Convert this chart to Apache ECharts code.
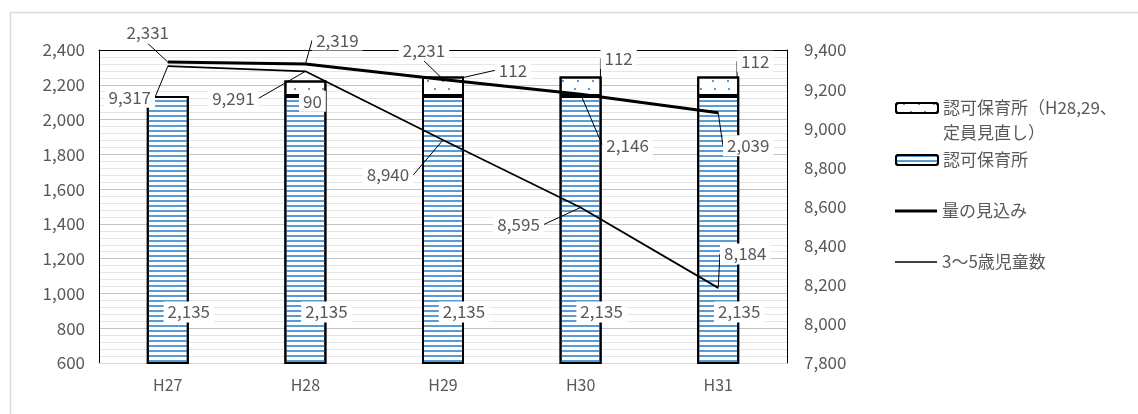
<!DOCTYPE html>
<html>
<head>
<meta charset="utf-8">
<script src="https://cdn.jsdelivr.net/npm/echarts@6/dist/echarts.min.js"></script>
<style>
  html, body { margin: 0; padding: 0; background: #fff; }
  #chart { width: 1138px; height: 414px; }
</style>
</head>
<body>
<div id="chart"></div>
<script>
  // 年度
  var years = ['H27', 'H28', 'H29', 'H30', 'H31']
  // 認可保育所
  var hoikusho = [2135, 2135, 2135, 2135, 2135]
  // 認可保育所（H28,29、定員見直し）
  var minaoshi = ['-', 90, 112, 112, 112]
  // 量の見込み（左軸）
  var mikomi = [2331, 2319, 2231, 2146, 2039]
  // 3～5歳児童数（右軸）
  var jidou = [9317, 9291, 8940, 8595, 8184]
  // 軸の目盛り
  var leftMin = 600, leftMax = 2400
  var rightMin = 7800, rightMax = 9400
  var tickStep = 200

  var names = ['認可保育所（H28,29、定員見直し）', '認可保育所', '量の見込み', '3～5歳児童数']

  // ラベルのずらし量 [dx, dy]
  var mikomiShift = [[-20, -29], [32, -24], [-19, -29], [47, 51], [30, 33]]
  var jidouShift = [[-38, 31], [-72, 27], [-55, 35], [-62, 17], [27, -34]]
  var minaoshiShift = [[0, 0], [7, 13], [70, -16], [38, -28], [37, -25]]

  var FONT = '"Noto Sans CJK JP", "Noto Sans", sans-serif'
  var GRAY = '#595959'

  function comma(v) {
    return String(v).replace(/\B(?=(\d{3})+(?!\d))/g, ',')
  }

  var labelBase = {
    show: true,
    position: 'inside',
    color: GRAY,
    fontSize: 17,
    fontFamily: FONT,
    backgroundColor: '#fff',
    padding: [2, 4],
    formatter: function (p) { return comma(p.value) }
  }
  var leader = { show: true, lineStyle: { color: '#000', width: 1 } }
  var legendText = { color: GRAY, fontSize: 17, lineHeight: 20 }

  var chart = echarts.init(document.getElementById('chart'))

  var option = {
    animation: false,
    textStyle: { fontFamily: FONT },
    grid: { left: 99, right: 351, top: 50, bottom: 51 },
    graphic: [
      {
        // 外枠
        type: 'rect',
        left: 8, top: 10,
        shape: { width: 1140, height: 410 },
        style: { fill: 'none', stroke: '#d9d9d9', lineWidth: 1.5 },
        silent: true
      },
      {
        // 凡例1の2行目
        type: 'text',
        x: 943, y: 133,
        style: { text: '定員見直し）', fill: GRAY, fontSize: 17, fontFamily: FONT, verticalAlign: 'middle' },
        silent: true
      }
    ],
    legend: [
      {
        data: [names[0]], left: 895, top: 98, padding: 0,
        itemWidth: 42, itemHeight: 10,
        formatter: function () { return '認可保育所（H28,29、' },
        textStyle: legendText,
        itemStyle: { borderColor: '#000', borderWidth: 2 }
      },
      {
        data: [names[1]], left: 895, top: 150, padding: 0,
        itemWidth: 42, itemHeight: 10,
        textStyle: legendText,
        itemStyle: { borderColor: '#000', borderWidth: 2 }
      },
      {
        data: [{ name: names[2], icon: 'rect' }], left: 895, top: 201, padding: 0,
        itemWidth: 42, itemHeight: 3,
        textStyle: legendText,
        itemStyle: { color: '#000', borderWidth: 0 }
      },
      {
        data: [{ name: names[3], icon: 'rect' }], left: 895, top: 252, padding: 0,
        itemWidth: 42, itemHeight: 1.5,
        textStyle: legendText,
        itemStyle: { color: '#000', borderWidth: 0 }
      }
    ],
    xAxis: [
      {
        type: 'category',
        data: years,
        axisLine: { lineStyle: { color: '#d9d9d9', width: 1 } },
        axisTick: { show: false },
        axisLabel: { color: GRAY, fontSize: 16, margin: 14 }
      },
      {
        // 上側の枠線
        type: 'category',
        position: 'top',
        data: years,
        axisLine: { lineStyle: { color: '#000', width: 1 } },
        axisTick: { show: false },
        axisLabel: { show: false }
      }
    ],
    yAxis: [
      {
        type: 'value',
        min: leftMin, max: leftMax, interval: tickStep,
        axisLine: { show: true, lineStyle: { color: '#000', width: 1 } },
        axisTick: { show: false },
        axisLabel: { color: GRAY, fontSize: 17, margin: 14, formatter: comma },
        splitLine: { lineStyle: { color: '#c3c3c3', width: 1 } },
        minorTick: { show: false, splitNumber: 5 },
        minorSplitLine: { show: true, lineStyle: { color: '#e6e6e6', width: 1 } }
      },
      {
        type: 'value',
        min: rightMin, max: rightMax, interval: tickStep,
        axisLine: { show: true, lineStyle: { color: '#000', width: 1 } },
        axisTick: { show: false },
        axisLabel: { color: GRAY, fontSize: 17, margin: 17, formatter: comma },
        splitLine: { show: false }
      }
    ],
    series: [
      {
        name: names[1],
        type: 'bar',
        stack: 'hoiku',
        barWidth: 42,
        data: hoikusho,
        itemStyle: {
          color: '#fff',
          borderColor: '#000',
          borderWidth: 2,
          decal: {
            symbol: 'rect',
            symbolSize: 1,
            color: '#5b9bd5',
            dashArrayX: [1, 0],
            dashArrayY: [1.5, 2.8],
            rotation: 0
          }
        },
        label: labelBase,
        labelLayout: { dx: 21, dy: 82 },
        labelLine: { show: false }
      },
      {
        name: names[0],
        type: 'bar',
        stack: 'hoiku',
        barWidth: 42,
        data: minaoshi,
        itemStyle: {
          color: '#fff',
          borderColor: '#000',
          borderWidth: 2,
          decal: {
            symbol: 'rect',
            symbolSize: 1,
            color: '#5b9bd5',
            dashArrayX: [[1.5, 12], [0, 6.5, 1.5, 5.5]],
            dashArrayY: [1.5, 5.5],
            rotation: 0
          }
        },
        label: labelBase,
        labelLayout: function (p) {
          var s = minaoshiShift[p.dataIndex]
          return { dx: s[0], dy: s[1] }
        },
        labelLine: leader
      },
      {
        name: names[2],
        type: 'line',
        data: mikomi,
        symbol: 'circle',
        symbolSize: 1,
        itemStyle: { color: '#000' },
        lineStyle: { color: '#000', width: 3 },
        label: labelBase,
        labelLayout: function (p) {
          var s = mikomiShift[p.dataIndex]
          return { dx: s[0], dy: s[1] }
        },
        labelLine: leader,
        z: 3
      },
      {
        name: names[3],
        type: 'line',
        yAxisIndex: 1,
        data: jidou,
        symbol: 'circle',
        symbolSize: 1,
        itemStyle: { color: '#000' },
        lineStyle: { color: '#000', width: 1.75 },
        label: labelBase,
        labelLayout: function (p) {
          var s = jidouShift[p.dataIndex]
          return { dx: s[0], dy: s[1] }
        },
        labelLine: leader,
        z: 3
      }
    ]
  }

  chart.setOption(option)
</script>
</body>
</html>
